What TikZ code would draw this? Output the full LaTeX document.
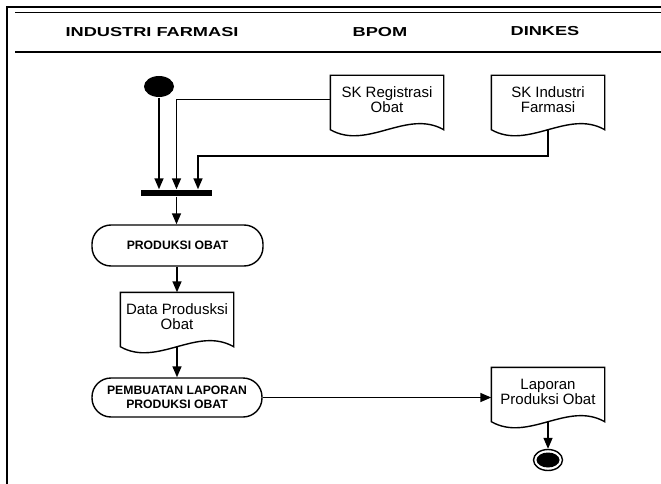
\documentclass[tikz,border=0pt]{standalone}
\usepackage{fontspec}
\setmainfont{Liberation Sans}
\newfontfamily\headfont[FakeStretch=1.4]{Liberation Sans}
\usetikzlibrary{arrows.meta,shapes.geometric}
\tikzset{
  docbox/.style={minimum width=112pt, minimum height=47pt, inner sep=0pt, align=center,
    font=\fontsize{15}{15}\selectfont},
  actbox/.style={draw, rectangle, rounded corners=19pt, minimum width=170pt, minimum height=40pt,
    inner sep=0pt, align=center, font=\bfseries\fontsize{12.2}{14}\selectfont},
  lane/.style={font=\headfont\bfseries\fontsize{13}{15}\selectfont},
  flow/.style={->},
}
% document outline with wavy bottom
\newcommand{\docline}[1]{\draw (#1.north west) -- (#1.north east) -- ([yshift=-6pt]#1.south east)
  .. controls +(-37pt,21pt) and +(37pt,-21pt) .. ([yshift=-6pt]#1.south west) -- cycle;}
\begin{document}
\begin{tikzpicture}[x=1pt, y=-1pt, line width=1.4pt, line join=miter, >={Triangle[length=11pt,width=9pt]}]
\def\W{661} \def\H{484}
\useasboundingbox (0,0) rectangle (\W,\H);
% frame and lanes
\draw[line width=2.4pt] (7,\H) -- (7,7) -- (\W,7);
\draw[line width=1.1pt] (15,12.5) -- (\W,12.5);
\draw[line width=1.1pt] (15,52) -- (\W,52);
\node[lane] (hif) at (152,32.5) {INDUSTRI FARMASI};
\node[lane] (hbpom) at (380,32.5) {BPOM};
\node[lane] (hdin) at (545,31.5) {DINKES};
% nodes
\node[ellipse, fill, minimum width=30pt, minimum height=21pt, inner sep=0pt] (start) at (159,86.5) {};
\node[docbox] (skreg) at (387,99.5) {SK Registrasi\\Obat};
\node[docbox] (skind) at (548,99.5) {SK Industri\\Farmasi};
\node[fill, minimum width=71pt, minimum height=6pt, inner sep=0pt] (fork) at (176.5,193) {};
\node[actbox, minimum width=171pt, minimum height=41pt] (prod) at (177.5,245.5) {PRODUKSI OBAT};
\node[docbox] (data) at (177,316.5) {Data Produsksi\\Obat};
\node[actbox, minimum height=39pt] (lapact) at (177,397.5) {PEMBUATAN LAPORAN\\PRODUKSI OBAT};
\node[docbox] (lap) at (548,391.5) {Laporan\\Produksi Obat};
\node[ellipse, draw, minimum width=29pt, minimum height=21pt, inner sep=0pt] (end) at (548,460) {};
\fill (end.center) ellipse [x radius=11.5pt, y radius=7.5pt];
\docline{skreg} \docline{skind} \docline{data} \docline{lap}
% connectors
\coordinate (bend) at (198,156);
\draw[flow] (start) -- (start |- fork.north);
\draw[flow] (skreg.west) -| (fork.north);
\draw[flow] ([yshift=-6pt]skind.south) |- (bend) -- (bend |- fork.north);
\draw[flow] (fork.south) -- (fork.south |- prod.north);
\draw[flow] (prod.south -| data.north) -- (data.north);
\draw[flow] ([yshift=-6pt]data.south) -- (data.south |- lapact.north);
\draw[flow] (lapact.east) -- (lapact.east -| lap.west);
\draw[flow] ([yshift=-6pt]lap.south) -- (end.north);
\end{tikzpicture}
\end{document}
